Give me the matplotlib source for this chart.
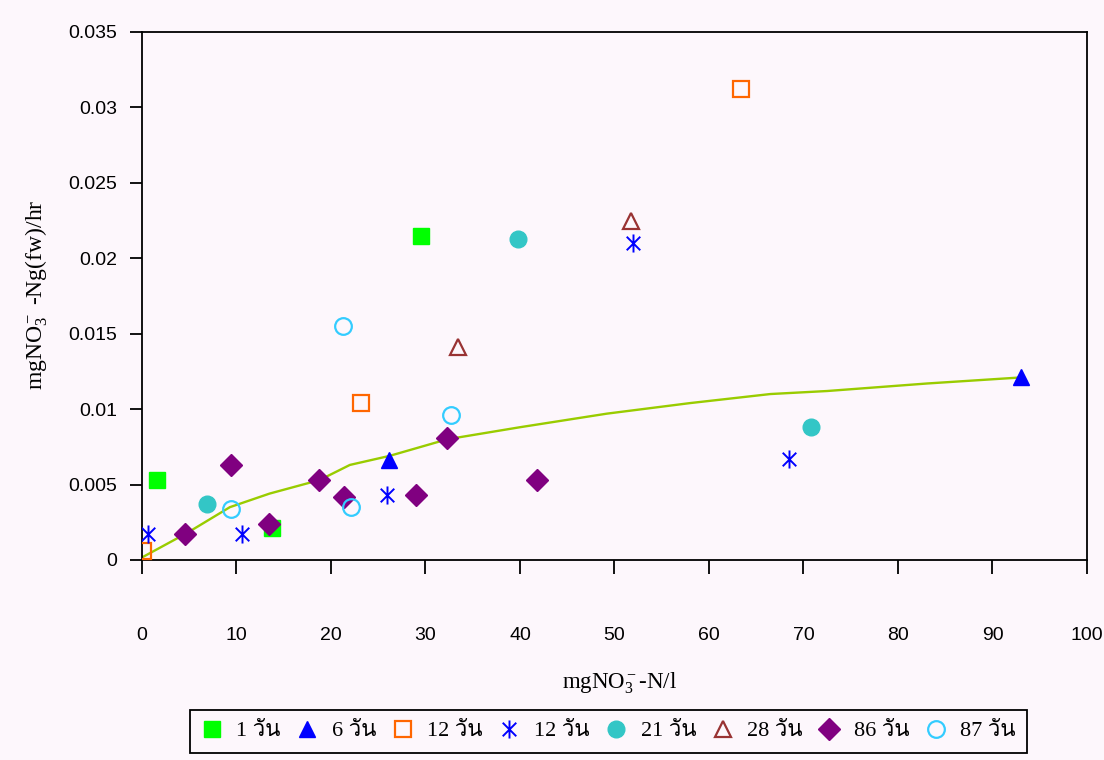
import numpy as np
import matplotlib
matplotlib.use("Agg")
import matplotlib.pyplot as plt
from matplotlib import font_manager
from matplotlib.ft2font import FT2Font
from matplotlib.path import Path
from matplotlib.ticker import FuncFormatter, MultipleLocator

# ====== dados ======
x_1d = [1.6, 13.8, 29.5]
y_1d = [0.0053, 0.0021, 0.0215]

x_6d = [26.1, 93.0]
y_6d = [0.0066, 0.0121]

x_12d_a = [0.1, 23.2, 63.4]
y_12d_a = [0.0006, 0.0104, 0.0312]

x_12d_b = [0.6, 10.6, 25.9, 52.0, 68.5]
y_12d_b = [0.0017, 0.0017, 0.0043, 0.0210, 0.0067]

x_21d = [6.9, 39.8, 70.8]
y_21d = [0.0037, 0.0213, 0.0088]

x_28d = [33.4, 51.7]
y_28d = [0.0141, 0.0225]

x_86d = [4.5, 9.4, 13.4, 18.7, 21.4, 29.0, 32.3, 41.8]
y_86d = [0.0017, 0.0063, 0.0024, 0.0053, 0.0042, 0.0043, 0.0081, 0.0053]

x_87d = [9.4, 21.3, 22.1, 32.7]
y_87d = [0.0034, 0.0155, 0.0035, 0.0096]

# linha de tendência
x_fit = [0.1, 4.8, 9.3, 13.5, 18.8, 22.0, 26.2, 32.3, 40.0, 49.2, 58.0, 66.5, 72.5, 83.1, 93.0]
y_fit = [0.0002, 0.0018, 0.0035, 0.0044, 0.0053, 0.0063, 0.0069, 0.0080, 0.0088, 0.0097,
         0.0104, 0.0110, 0.0112, 0.0117, 0.0121]

labels = ["1 วัน", "6 วัน", "12 วัน", "12 วัน", "21 วัน", "28 วัน", "86 วัน", "87 วัน"]


# ====== fonte com glifos tailandeses ======
def find_thai_font():
    for f in font_manager.fontManager.ttflist:
        try:
            if 0x0E27 in FT2Font(f.fname).get_charmap():
                return f.name
        except Exception:
            pass
    return None


thai = find_thai_font()
serif_fam = ["Liberation Serif"] + ([thai] if thai else []) + ["DejaVu Sans"]

plt.rcParams["mathtext.fontset"] = "custom"
plt.rcParams["mathtext.rm"] = "Liberation Serif"
plt.rcParams["mathtext.it"] = "Liberation Serif:italic"

# marcador estrela do Excel: vertical + X
star = Path([(0, -1), (0, 1), (-0.75, -0.75), (0.75, 0.75), (-0.75, 0.75), (0.75, -0.75)],
            [Path.MOVETO, Path.LINETO] * 3)

bg = "#fdf7fc"
fig = plt.figure(figsize=(11.04, 7.6), dpi=100, facecolor=bg)
ax = fig.add_axes([0.1286, 0.2632, 0.856, 0.6947], facecolor=bg)

ax.plot(x_fit, y_fit, color="#99cc00", lw=1.7, zorder=2)

ms = 12
ax.plot(x_1d, y_1d, ls="none", marker="s", ms=ms - 1, color="#00ff00", label=labels[0], zorder=3)
ax.plot(x_6d, y_6d, ls="none", marker="^", ms=ms, color="#0000ff", label=labels[1], zorder=3)
ax.plot(x_12d_a, y_12d_a, ls="none", marker="s", ms=ms - 1, mfc="none", mec="#ff6600", mew=1.6,
        label=labels[2], zorder=3)
ax.plot(x_12d_b, y_12d_b, ls="none", marker=star, ms=ms + 1, mec="#0000ff", mew=1.4,
        label=labels[3], zorder=3)
ax.plot(x_21d, y_21d, ls="none", marker="o", ms=ms, color="#33c6c6", label=labels[4], zorder=3)
ax.plot(x_28d, y_28d, ls="none", marker="^", ms=ms, mfc="none", mec="#993333", mew=1.6,
        label=labels[5], zorder=3)
ax.plot(x_86d, y_86d, ls="none", marker="D", ms=ms - 1, color="#800080", label=labels[6], zorder=3)
ax.plot(x_87d, y_87d, ls="none", marker="o", ms=ms, mfc="none", mec="#33ccff", mew=1.6,
        label=labels[7], zorder=3)

ax.set_xlim(0, 100)
ax.set_ylim(0, 0.035)
ax.xaxis.set_major_locator(MultipleLocator(10))
ax.yaxis.set_major_locator(MultipleLocator(0.005))
ax.yaxis.set_major_formatter(FuncFormatter(lambda v, p: "%g" % round(v, 4)))
ax.xaxis.set_major_formatter(FuncFormatter(lambda v, p: "%g" % v))

for s in ax.spines.values():
    s.set_color("black")
    s.set_linewidth(1.3)

ax.tick_params(axis="y", direction="out", length=9, width=1.3, pad=9, labelsize=14)
ax.tick_params(axis="x", direction="out", length=10, width=1.3, pad=38, labelsize=14)
for t in ax.get_xticklabels() + ax.get_yticklabels():
    t.set_fontfamily(["Liberation Sans", "DejaVu Sans"])

fig.text(0.5616, 0.1013, "mgNO$_3^-$-N/l", ha="center", va="center", fontsize=16.5,
         family="Liberation Serif")
fig.text(0.033, 0.612, "mgNO$_3^-$ -Ng(fw)/hr", ha="center", va="center", rotation=90,
         fontsize=17, family="Liberation Serif")

leg = fig.legend(loc="center", bbox_to_anchor=(0.551, 0.038), ncol=8, frameon=True,
                 fancybox=False, edgecolor="black", facecolor=bg, framealpha=1,
                 prop={"family": serif_fam, "size": 16}, handlelength=1.0,
                 handletextpad=0.6, columnspacing=0.7, borderpad=0.5, markerscale=1.0)
leg.get_frame().set_linewidth(1.3)

fig.savefig("out.png", dpi=100, facecolor=bg)
